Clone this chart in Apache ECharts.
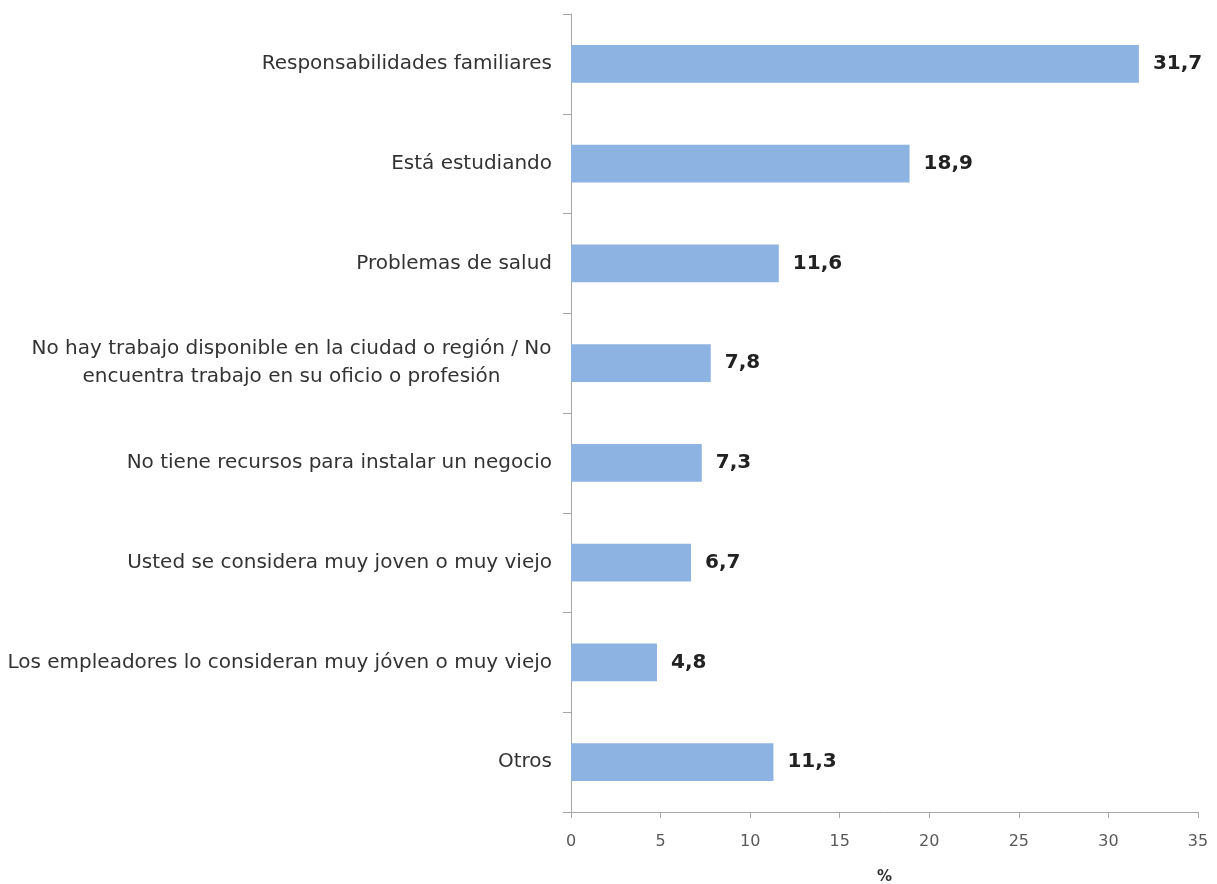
<!DOCTYPE html>
<html><head><meta charset="utf-8">
<script src="https://cdn.jsdelivr.net/npm/echarts@6/dist/echarts.min.js"></script>
<style>html,body{margin:0;padding:0;background:#fff}#c{width:1217px;height:884px}</style>
</head><body><div id="c"></div>
<script>
const categories = [
  "Responsabilidades familiares",
  "Está estudiando",
  "Problemas de salud",
  "No hay trabajo disponible en la ciudad o región / No\nencuentra trabajo en su oficio o profesión",
  "No tiene recursos para instalar un negocio",
  "Usted se considera muy joven o muy viejo",
  "Los empleadores lo consideran muy jóven o muy viejo",
  "Otros"
];
const values = [31.7, 18.9, 11.6, 7.8, 7.3, 6.7, 4.8, 11.3];
const xTicks = [0, 5, 10, 15, 20, 25, 30, 35];

const FONT = 'DejaVu Sans';
const LABEL_SIZE = 20;
const ctx = document.createElement('canvas').getContext('2d');
ctx.font = LABEL_SIZE + 'px "' + FONT + '"';

function catFormatter(v) {
  if (v.indexOf('\n') < 0) return v;
  return v.split('\n').map(l => '{c|' + l + '}').join('\n');
}
const multiWidth = Math.max(...categories.filter(c => c.includes('\n'))
  .flatMap(c => c.split('\n')).map(l => Math.ceil(ctx.measureText(l).width)));

const chart = echarts.init(document.getElementById('c'));
chart.setOption({
  animation: false,
  grid: { left: 571, right: 19, top: 14, bottom: 72, containLabel: false, outerBoundsMode: 'none' },
  xAxis: {
    type: 'value', min: 0, max: 35, interval: 5,
    name: '%', nameLocation: 'middle', nameGap: 58,
    nameTextStyle: { fontFamily: FONT, fontWeight: 'bold', fontSize: 15, color: '#333' },
    axisLine: { show: true, lineStyle: { color: '#a6a6a6' } },
    axisTick: { show: true, inside: false, length: 6, lineStyle: { color: '#a6a6a6' } },
    axisLabel: { fontFamily: FONT, fontSize: 16, color: '#595959', margin: 22,
      formatter: v => xTicks.includes(v) ? String(v) : '' },
    splitLine: { show: false }
  },
  yAxis: {
    type: 'category', data: categories, inverse: true,
    axisLine: { show: true, lineStyle: { color: '#a6a6a6' } },
    axisTick: { show: true, length: 8, lineStyle: { color: '#a6a6a6' } },
    axisLabel: { fontFamily: FONT, fontSize: LABEL_SIZE, color: '#333', margin: 19,
      formatter: catFormatter,
      rich: { c: { fontFamily: FONT, fontSize: LABEL_SIZE, color: '#333', width: multiWidth, align: 'center', lineHeight: 28 } } },
  },
  series: [{
    type: 'bar', data: values, barWidth: '38%',
    itemStyle: { color: '#8db3e2' },
    label: { show: true, position: 'right', distance: 14,
      formatter: p => p.value.toFixed(1).replace('.', ','),
      fontFamily: FONT, fontWeight: 'bold', fontSize: 20, color: '#222' }
  }]
});
</script></body></html>
